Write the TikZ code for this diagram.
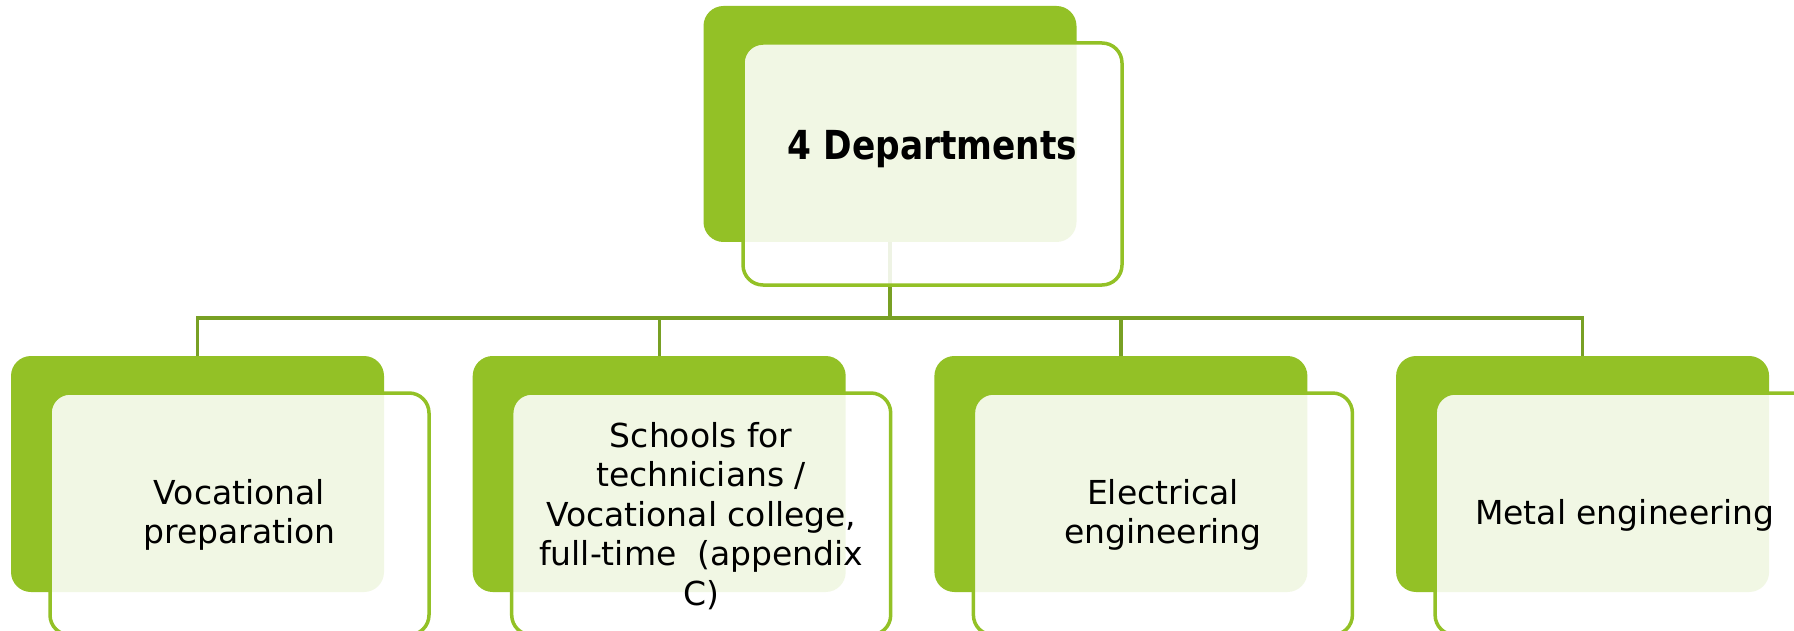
\documentclass[tikz,border=0pt]{standalone}
\usepackage{fontspec}
\setmainfont{DejaVu Sans}
\newfontfamily\titlefont{DejaVu Sans}[FakeStretch=0.86]
\definecolor{leaf}{RGB}{147,193,38}
\definecolor{linkgreen}{RGB}{120,160,36}
\begin{document}
\begin{tikzpicture}[x=1pt,y=-1pt,
  backbox/.style={fill=leaf, rounded corners=20pt, inner sep=0pt,
    minimum width=373pt, minimum height=236pt},
  frontbox/.style={draw=leaf, line width=3.5pt, fill=white, fill opacity=0.88,
    text opacity=1, rounded corners=20pt, inner sep=0pt,
    minimum width=379pt, minimum height=242pt},
  label/.style={align=center, font=\fontsize{33}{39.5}\selectfont, inner sep=0pt},
  conn/.style={draw=linkgreen, line width=3.3pt}]
\clip (0,0) rectangle (1794,631);
\fill[white] (0,0) rectangle (1794,631);
% back boxes
\node[backbox] (g0) at (890,124) {};
\node[backbox] (g1) at (197.5,474) {};
\node[backbox] (g2) at (659.2,474) {};
\node[backbox] (g3) at (1120.9,474) {};
\node[backbox] (g4) at (1582.6,474) {};
% connectors
\coordinate (bus) at (0,318);
\draw[conn] (g0.south) -- (g0.south |- bus) -| (g1.north);
\draw[conn] (g0.south |- bus) -| (g2.north);
\draw[conn] (g0.south |- bus) -| (g3.north);
\draw[conn] (g0.south |- bus) -| (g4.north);
% front boxes
\node[frontbox] (f0) at (932.5,164) {};
\node[frontbox] (f1) at (239.5,514) {};
\node[frontbox] (f2) at (701.2,514) {};
\node[frontbox] (f3) at (1162.9,514) {};
\node[frontbox] (f4) at (1624.6,514) {};
% texts
\node[inner sep=0pt, font=\titlefont\bfseries\fontsize{40}{46}\selectfont] (t0) at (932.5,149) {4 Departments};
\node[label] (t1) at (239.5,515) {Vocational\\preparation};
\node[label] (t2) at (701.2,516) {Schools for\\technicians /\\Vocational college,\\full-time~~(appendix\\C)};
\node[label] (t3) at (1162.9,515) {Electrical\\engineering};
\node[label] (t4) at (1624.6,515) {Metal engineering};
\end{tikzpicture}
\end{document}
